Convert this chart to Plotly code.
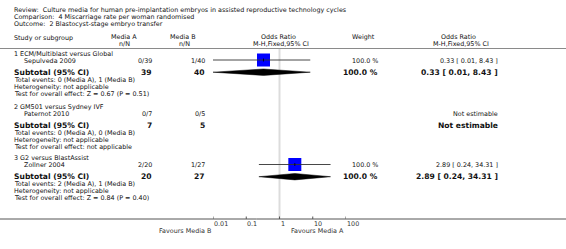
import math
import plotly.graph_objects as go

# ---------------- data ----------------
header_lines = [
    "Review:  Culture media for human pre-implantation embryos in assisted reproductive technology cycles",
    "Comparison:  4 Miscarriage rate per woman randomised",
    "Outcome:  2 Blastocyst-stage embryo transfer",
]
groups = ["1 ECM/Multiblast versus Global", "2 GM501 versus Sydney IVF", "3 G2 versus BlastAssist"]
studies = ["Sepulveda 2009", "Paternot 2010", "Zollner 2004"]
events_a = ["0/39", "0/7", "2/20"]
events_b = ["1/40", "0/5", "1/27"]
total_a = ["39", "7", "20"]
total_b = ["40", "5", "27"]
odds_ratio = [0.33, None, 2.89]
ci_low = [0.01, None, 0.24]
ci_high = [8.43, None, 34.31]
weights = ["100.0 %", None, "100.0 %"]
or_text = ["0.33 [ 0.01, 8.43 ]", "Not estimable", "2.89 [ 0.24, 34.31 ]"]
total_events = ["Total events: 0 (Media A), 1 (Media B)",
                "Total events: 0 (Media A), 0 (Media B)",
                "Total events: 2 (Media A), 1 (Media B)"]
heterogeneity = ["Heterogeneity: not applicable"] * 3
overall_effect = ["Test for overall effect: Z = 0.67 (P = 0.51)",
                  "Test for overall effect: not applicable",
                  "Test for overall effect: Z = 0.84 (P = 0.40)"]
tick_vals = [0.01, 0.1, 1, 10, 100]
tick_labels = ["0.01", "0.1", "1", "10", "100"]
favours_left = "Favours Media B"
favours_right = "Favours Media A"

# ---------------- layout helpers ----------------
W, H = 566, 249
FONT = "DejaVu Sans"
TXT = "#111111"
SMALL = 6.4
BOLD = 7.6

annotations = []
shapes = []


def txt(x, y, s, size=SMALL, anchor="left", bold=False, color=TXT):
    annotations.append(dict(
        x=x / W, y=y, xref="paper", yref="y", text=f"<b>{s}</b>" if bold else s,
        showarrow=False, xanchor=anchor, yanchor="middle",
        font=dict(family=FONT, size=size, color=color),
        borderpad=0,
    ))


# titles
for i, line in enumerate(header_lines):
    txt(13, 10 + i * 7, line)

# column headers
txt(13, 37.5, "Study or subgroup")
txt(124, 37, "Media A", anchor="center")
txt(125, 44.3, "n/N", anchor="center")
txt(183, 37, "Media B", anchor="center")
txt(184, 44.3, "n/N", anchor="center")
txt(278, 37, "Odds Ratio", anchor="center")
txt(281, 44.3, "M-H,Fixed,95% CI", anchor="center")
txt(363, 37, "Weight", anchor="center")
txt(458, 37, "Odds Ratio", anchor="center")
txt(461, 44.3, "M-H,Fixed,95% CI", anchor="center")
shapes.append(dict(type="line", xref="paper", yref="y", x0=0, x1=1, y0=48.5, y1=48.5,
                   line=dict(color="#8a8a8a", width=1.2)))

group_y0 = [53.5, 106.5, 158]
for g in range(3):
    y = group_y0[g]
    txt(13, y, groups[g])
    txt(23, y + 7, studies[g])
    txt(153, y + 7, events_a[g], anchor="right")
    txt(206, y + 7, events_b[g], anchor="right")
    if weights[g]:
        txt(379, y + 7, weights[g], anchor="right")
    txt(499, y + 7, or_text[g], anchor="right")
    ys = y + 18.5
    txt(13, ys, "Subtotal (95% CI)", size=BOLD, bold=True)
    txt(153, ys, total_a[g], size=BOLD, anchor="right", bold=True)
    txt(206, ys, total_b[g], size=BOLD, anchor="right", bold=True)
    if weights[g]:
        txt(379, ys, weights[g], size=BOLD, anchor="right", bold=True)
    txt(499, ys, or_text[g], size=BOLD, anchor="right", bold=True)
    txt(13, ys + 7.8, total_events[g])
    txt(13, ys + 14.8, heterogeneity[g])
    txt(13, ys + 21.8, overall_effect[g])

# ---------------- traces ----------------
fig = go.Figure()
AXIS_Y = 219

# no-effect line
shapes.append(dict(type="line", xref="x", yref="y", x0=1, x1=1, y0=48.5, y1=AXIS_Y,
                   line=dict(color="#dcdcdc", width=2), layer="below"))

for g in range(3):
    if odds_ratio[g] is None:
        continue
    y = group_y0[g] + 6.5
    fig.add_trace(go.Scatter(x=[odds_ratio[g]], y=[y], mode="markers",
                             marker=dict(symbol="square", size=13, color="#0000ff",
                                         line=dict(width=0)),
                             hoverinfo="skip", showlegend=False))
    fig.add_trace(go.Scatter(x=[ci_low[g], ci_high[g]], y=[y, y], mode="lines",
                             line=dict(color="#333333", width=0.9),
                             hoverinfo="skip", showlegend=False))
    fig.add_trace(go.Scatter(x=[odds_ratio[g], odds_ratio[g]], y=[y - 1.5, y + 1.5], mode="lines",
                             line=dict(color="#000000", width=0.8),
                             hoverinfo="skip", showlegend=False))
    ys = group_y0[g] + 18.7
    fig.add_trace(go.Scatter(
        x=[ci_low[g], odds_ratio[g], ci_high[g], odds_ratio[g], ci_low[g]],
        y=[ys, ys - 3.2, ys, ys + 3.2, ys], mode="lines", fill="toself",
        fillcolor="#000000", line=dict(color="#000000", width=0.5),
        hoverinfo="skip", showlegend=False))

# axis
shapes.append(dict(type="line", xref="paper", yref="y", x0=0, x1=1, y0=AXIS_Y, y1=AXIS_Y,
                   line=dict(color="#555555", width=1)))
for v, lab in zip(tick_vals, tick_labels):
    shapes.append(dict(type="line", xref="x", yref="y", x0=v, x1=v, y0=AXIS_Y - 2.5, y1=AXIS_Y,
                       line=dict(color="#555555", width=1)))
    annotations.append(dict(x=math.log10(v), y=AXIS_Y + 4.5, xref="x", yref="y", text=lab,
                            showarrow=False, xanchor="left", yanchor="middle", xshift=-1,
                            font=dict(family=FONT, size=SMALL, color="#333333")))
annotations.append(dict(x=math.log10(tick_vals[0]), y=AXIS_Y + 12, xref="x", yref="y",
                        text=favours_left, showarrow=False, xanchor="right", yanchor="middle",
                        font=dict(family=FONT, size=SMALL, color="#333333")))
annotations.append(dict(x=math.log10(tick_vals[-1]), y=AXIS_Y + 12, xref="x", yref="y",
                        text=favours_right, showarrow=False, xanchor="right", yanchor="middle",
                        font=dict(family=FONT, size=SMALL, color="#333333")))

fig.update_layout(
    width=W, height=H, margin=dict(l=0, r=0, t=0, b=0),
    paper_bgcolor="white", plot_bgcolor="white",
    xaxis=dict(type="log", range=[-2, 2], domain=[213 / W, 346 / W], visible=False, fixedrange=True),
    yaxis=dict(range=[H, 0], domain=[0, 1], visible=False, fixedrange=True),
    annotations=annotations, shapes=shapes, showlegend=False,
)

fig.write_html("out.html", config={"displayModeBar": False},
               post_script="document.body.style.margin='0';document.body.style.overflow='hidden';")
